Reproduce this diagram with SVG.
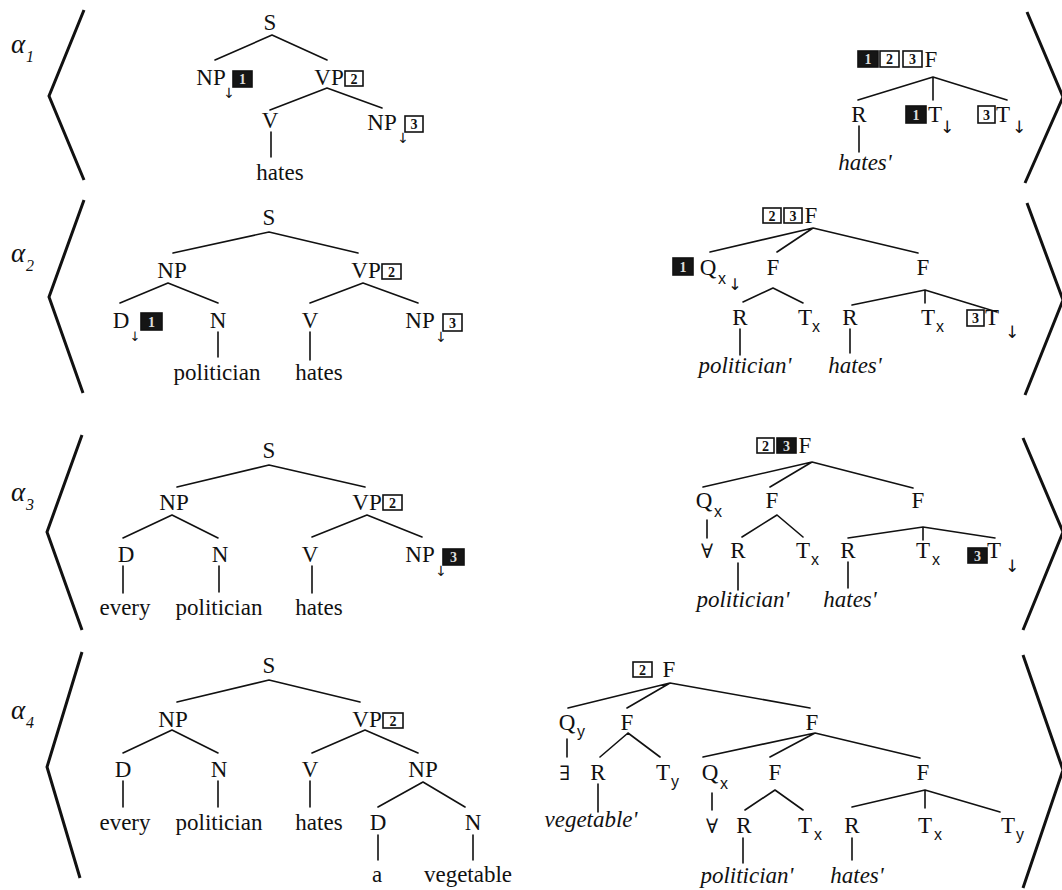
<svg xmlns="http://www.w3.org/2000/svg" width="1062" height="890" viewBox="0 0 1062 890">
<style>
.t{font-family:"Liberation Serif",serif;font-size:23px;fill:#111;text-anchor:middle}
.it{font-style:italic}
.sub{font-family:"Liberation Sans",sans-serif;font-size:16px;fill:#111;text-anchor:middle}
.arr{font-family:"DejaVu Sans",sans-serif;fill:#111;text-anchor:middle}
.al{font-family:"Liberation Serif",serif;font-style:italic;fill:#111}
.q{font-family:"DejaVu Serif",serif;font-size:20px;fill:#111;text-anchor:middle}
.ln{stroke:#111;stroke-width:1.6;fill:none;stroke-linecap:round}
.br{stroke:#111;stroke-width:3;fill:none;stroke-linejoin:miter}
.bx{fill:#fff;stroke:#111;stroke-width:1.6}
.bxd{fill:#151515;stroke:#111;stroke-width:1.6}
.bn{font-family:"Liberation Serif",serif;font-size:14px;font-weight:bold;fill:#111;text-anchor:middle}
.bnd{font-family:"Liberation Serif",serif;font-size:14px;font-weight:bold;fill:#ddd;text-anchor:middle}
</style>
<rect width="1062" height="890" fill="#fff"/>

<g id="labels">
<text class="al" x="11" y="53" font-size="27">α</text><text class="al" x="26" y="62" font-size="16">1</text>
<text class="al" x="11" y="262" font-size="27">α</text><text class="al" x="26" y="271" font-size="16">2</text>
<text class="al" x="11" y="501" font-size="27">α</text><text class="al" x="26" y="510" font-size="16">3</text>
<text class="al" x="11" y="719" font-size="27">α</text><text class="al" x="26" y="728" font-size="16">4</text>
</g>
<g id="brackets">
<polyline class="br" points="84,10 49,96 84,180"/>
<polyline class="br" points="84,200 49,297 83,393"/>
<polyline class="br" points="82,435 47,532 82,630"/>
<polyline class="br" points="82,652 47,767 80,878"/>
<polyline class="br" points="1027,12 1063,97 1025,183"/>
<polyline class="br" points="1027,203 1063,300 1025,395"/>
<polyline class="br" points="1023,438 1063,532 1023,630"/>
<polyline class="br" points="1023,655 1063,770 1023,888"/>
</g>

<g id="connectors">
<path class="ln" d="M272,35 L215,60 M272,35 L327,60 M327,88 L270,110 M327,88 L382,108 M271,132 L271,157"/>
<path class="ln" d="M933,77 L858,100 M933,77 L933,100 M933,77 L1007,100 M859,126 L859,152"/>
<path class="ln" d="M269,232 L173,253 M269,232 L358,253 M168,283 L120,303 M168,283 L218,303 M363,283 L310,303 M363,283 L418,303 M218,332 L218,357 M310,332 L310,360"/>
<path class="ln" d="M813,228 L710,252 M813,228 L777,252 M813,228 L918,253 M773,288 L743,302 M773,288 L803,303 M925,290 L852,305 M925,290 L925,303 M925,290 L997,312 M740,329 L740,355 M850,329 L850,353"/>
<path class="ln" d="M269,465 L177,487 M269,465 L365,487 M172,515 L123,538 M172,515 L218,538 M367,515 L312,537 M367,515 L422,537 M123,566 L123,593 M219,566 L219,592 M312,566 L312,593"/>
<path class="ln" d="M812,462 L703,487 M812,462 L770,487 M812,462 L913,488 M707,520 L707,538 M777,515 L742,537 M777,515 L803,537 M923,527 L848,538 M923,527 L923,540 M923,527 L995,538 M738,563 L738,590 M848,562 L848,588"/>
<path class="ln" d="M269,680 L177,702 M269,680 L360,702 M172,730 L123,753 M172,730 L218,753 M365,730 L312,753 M365,730 L418,753 M423,782 L378,807 M423,782 L465,807 M123,781 L123,807 M218,781 L218,807 M310,781 L310,807 M378,835 L378,860 M473,835 L473,860"/>
<path class="ln" d="M670,683 L568,708 M670,683 L627,708 M670,683 L810,708 M567,739 L567,757 M628,733 L600,757 M628,733 L660,757 M598,784 L598,812 M815,733 L703,757 M815,733 L770,757 M815,733 L920,758 M712,793 L712,810 M775,790 L745,810 M775,790 L803,810 M743,838 L743,863 M925,790 L852,807 M925,790 L925,808 M925,790 L1000,812 M852,838 L852,860"/>
</g>

<!-- ===== Row 1 ===== -->
<g id="r1-S"><text class="t" x="270" y="30">S</text></g>
<g id="r1-NP1"><text class="t" x="211" y="85">NP</text><text class="arr" x="229" y="98" font-size="14">↓</text><rect class="bxd" x="233" y="71" width="19" height="16"/><text class="bnd" x="242.5" y="84">1</text></g>
<g id="r1-VP"><text class="t" x="329" y="85">VP</text><rect class="bx" x="345" y="71" width="18" height="15"/><text class="bn" x="354" y="83.5">2</text></g>
<g id="r1-V"><text class="t" x="270" y="128">V</text></g>
<g id="r1-NP3"><text class="t" x="382" y="130">NP</text><text class="arr" x="403" y="143" font-size="14">↓</text><rect class="bx" x="405" y="116" width="18" height="16"/><text class="bn" x="414" y="129">3</text></g>
<g id="r1-hates"><text class="t" x="280" y="180">hates</text></g>

<g id="r1-F"><rect class="bxd" x="858" y="51" width="20" height="16"/><text class="bnd" x="868" y="64">1</text><rect class="bx" x="880" y="51" width="19" height="16"/><text class="bn" x="889.5" y="64">2</text><rect class="bx" x="903" y="51" width="19" height="16"/><text class="bn" x="912.5" y="64">3</text><text class="t" x="931" y="67">F</text></g>
<g id="r1-R"><text class="t" x="859" y="122">R</text></g>
<g id="r1-T1"><rect class="bxd" x="906" y="106" width="20" height="17"/><text class="bnd" x="916" y="119.5">1</text><text class="t" x="935" y="122">T</text><text class="arr" x="947" y="133" font-size="17">↓</text></g>
<g id="r1-T3"><rect class="bx" x="978" y="106" width="17" height="17"/><text class="bn" x="986.5" y="119.5">3</text><text class="t" x="1003" y="122">T</text><text class="arr" x="1019" y="133" font-size="17">↓</text></g>
<g id="r1-hates-s"><text class="t it" x="865" y="170">hates'</text></g>

<!-- ===== Row 2 ===== -->
<g id="r2-S"><text class="t" x="269" y="225">S</text></g>
<g id="r2-NP"><text class="t" x="172" y="278">NP</text></g>
<g id="r2-VP"><text class="t" x="366" y="278">VP</text><rect class="bx" x="382" y="264" width="19" height="15"/><text class="bn" x="391.5" y="276.5">2</text></g>
<g id="r2-D"><text class="t" x="121" y="328">D</text><text class="arr" x="135" y="341" font-size="13">↓</text><rect class="bxd" x="141" y="313" width="21" height="17"/><text class="bnd" x="151.5" y="326.5">1</text></g>
<g id="r2-N"><text class="t" x="218" y="328">N</text></g>
<g id="r2-V"><text class="t" x="310" y="328">V</text></g>
<g id="r2-NP3"><text class="t" x="420" y="328">NP</text><text class="arr" x="441" y="342" font-size="14">↓</text><rect class="bx" x="443" y="314" width="19" height="17"/><text class="bn" x="452.5" y="327.5">3</text></g>
<g id="r2-politician"><text class="t" x="217" y="380">politician</text></g>
<g id="r2-hates"><text class="t" x="319" y="380">hates</text></g>

<g id="r2-F"><rect class="bx" x="763" y="208" width="18" height="15"/><text class="bn" x="772" y="220.5">2</text><rect class="bx" x="784" y="208" width="18" height="15"/><text class="bn" x="793" y="220.5">3</text><text class="t" x="811" y="223">F</text></g>
<g id="r2-Q"><rect class="bxd" x="673" y="258" width="20" height="17"/><text class="bnd" x="683" y="271.5">1</text><text class="t" x="708" y="275">Q</text><text class="sub" x="722" y="284">x</text><text class="arr" x="735" y="290" font-size="16">↓</text></g>
<g id="r2-F1"><text class="t" x="773" y="275">F</text></g>
<g id="r2-F2"><text class="t" x="923" y="275">F</text></g>
<g id="r2-R1"><text class="t" x="740" y="325">R</text></g>
<g id="r2-Tx1"><text class="t" x="805" y="325">T</text><text class="sub" x="816" y="332">x</text></g>
<g id="r2-R2"><text class="t" x="850" y="325">R</text></g>
<g id="r2-Tx2"><text class="t" x="928" y="325">T</text><text class="sub" x="940" y="332">x</text></g>
<g id="r2-T3"><rect class="bx" x="967" y="310" width="17" height="16"/><text class="bn" x="975.5" y="323">3</text><text class="t" x="992" y="325">T</text><text class="arr" x="1012" y="338" font-size="17">↓</text></g>
<g id="r2-politician-s"><text class="t it" x="745" y="373">politician'</text></g>
<g id="r2-hates-s"><text class="t it" x="855" y="373">hates'</text></g>

<!-- ===== Row 3 ===== -->
<g id="r3-S"><text class="t" x="269" y="458">S</text></g>
<g id="r3-NP"><text class="t" x="174" y="510">NP</text></g>
<g id="r3-VP"><text class="t" x="367" y="510">VP</text><rect class="bx" x="383" y="495" width="19" height="15"/><text class="bn" x="392.5" y="507.5">2</text></g>
<g id="r3-D"><text class="t" x="126" y="562">D</text></g>
<g id="r3-N"><text class="t" x="220" y="562">N</text></g>
<g id="r3-V"><text class="t" x="310" y="562">V</text></g>
<g id="r3-NP3"><text class="t" x="420" y="562">NP</text><text class="arr" x="441" y="576" font-size="14">↓</text><rect class="bxd" x="443" y="549" width="21" height="16"/><text class="bnd" x="453.5" y="562">3</text></g>
<g id="r3-every"><text class="t" x="125" y="615">every</text></g>
<g id="r3-politician"><text class="t" x="219" y="615">politician</text></g>
<g id="r3-hates"><text class="t" x="319" y="615">hates</text></g>

<g id="r3-F"><rect class="bx" x="757" y="438" width="17" height="15"/><text class="bn" x="765.5" y="450.5">2</text><rect class="bxd" x="777" y="438" width="19" height="15"/><text class="bnd" x="786.5" y="450.5">3</text><text class="t" x="805" y="453">F</text></g>
<g id="r3-Q"><text class="t" x="704" y="508">Q</text><text class="sub" x="718" y="517">x</text></g>
<g id="r3-forall"><text class="q" x="707" y="558">∀</text></g>
<g id="r3-F1"><text class="t" x="772" y="508">F</text></g>
<g id="r3-F2"><text class="t" x="918" y="508">F</text></g>
<g id="r3-R1"><text class="t" x="738" y="558">R</text></g>
<g id="r3-Tx1"><text class="t" x="803" y="558">T</text><text class="sub" x="815" y="565">x</text></g>
<g id="r3-R2"><text class="t" x="848" y="558">R</text></g>
<g id="r3-Tx2"><text class="t" x="923" y="558">T</text><text class="sub" x="936" y="565">x</text></g>
<g id="r3-T3"><rect class="bxd" x="968" y="548" width="19" height="15"/><text class="bnd" x="977.5" y="560.5">3</text><text class="t" x="994" y="558">T</text><text class="arr" x="1012" y="572" font-size="17">↓</text></g>
<g id="r3-politician-s"><text class="t it" x="743" y="607">politician'</text></g>
<g id="r3-hates-s"><text class="t it" x="850" y="607">hates'</text></g>

<!-- ===== Row 4 ===== -->
<g id="r4-S"><text class="t" x="269" y="673">S</text></g>
<g id="r4-NP"><text class="t" x="173" y="727">NP</text></g>
<g id="r4-VP"><text class="t" x="367" y="727">VP</text><rect class="bx" x="383" y="713" width="20" height="15"/><text class="bn" x="393" y="725.5">2</text></g>
<g id="r4-D"><text class="t" x="123" y="777">D</text></g>
<g id="r4-N"><text class="t" x="219" y="777">N</text></g>
<g id="r4-V"><text class="t" x="310" y="777">V</text></g>
<g id="r4-NP2"><text class="t" x="423" y="777">NP</text></g>
<g id="r4-every"><text class="t" x="125" y="830">every</text></g>
<g id="r4-politician"><text class="t" x="219" y="830">politician</text></g>
<g id="r4-hates"><text class="t" x="319" y="830">hates</text></g>
<g id="r4-D2"><text class="t" x="378" y="830">D</text></g>
<g id="r4-N2"><text class="t" x="473" y="830">N</text></g>
<g id="r4-a"><text class="t" x="377" y="882">a</text></g>
<g id="r4-vegetable"><text class="t" x="468" y="882">vegetable</text></g>

<g id="r4-F"><rect class="bx" x="633" y="662" width="19" height="15"/><text class="bn" x="642.5" y="674.5">2</text><text class="t" x="669" y="677">F</text></g>
<g id="r4-Qy"><text class="t" x="567" y="730">Q</text><text class="sub" x="581" y="737">y</text></g>
<g id="r4-exists"><text class="q" x="565" y="780">∃</text></g>
<g id="r4-F1"><text class="t" x="627" y="730">F</text></g>
<g id="r4-R1"><text class="t" x="598" y="780">R</text></g>
<g id="r4-Ty1"><text class="t" x="663" y="780">T</text><text class="sub" x="675" y="787">y</text></g>
<g id="r4-vegetable-s"><text class="t it" x="591" y="827">vegetable'</text></g>
<g id="r4-F2"><text class="t" x="812" y="730">F</text></g>
<g id="r4-Qx"><text class="t" x="710" y="780">Q</text><text class="sub" x="724" y="789">x</text></g>
<g id="r4-forall"><text class="q" x="712" y="833">∀</text></g>
<g id="r4-F3"><text class="t" x="775" y="780">F</text></g>
<g id="r4-R2"><text class="t" x="744" y="833">R</text></g>
<g id="r4-Tx1"><text class="t" x="805" y="833">T</text><text class="sub" x="818" y="840">x</text></g>
<g id="r4-politician-s"><text class="t it" x="747" y="883">politician'</text></g>
<g id="r4-F4"><text class="t" x="923" y="780">F</text></g>
<g id="r4-R3"><text class="t" x="852" y="833">R</text></g>
<g id="r4-Tx2"><text class="t" x="925" y="833">T</text><text class="sub" x="938" y="840">x</text></g>
<g id="r4-Ty2"><text class="t" x="1008" y="833">T</text><text class="sub" x="1020" y="840">y</text></g>
<g id="r4-hates-s"><text class="t it" x="857" y="883">hates'</text></g>
</svg>
